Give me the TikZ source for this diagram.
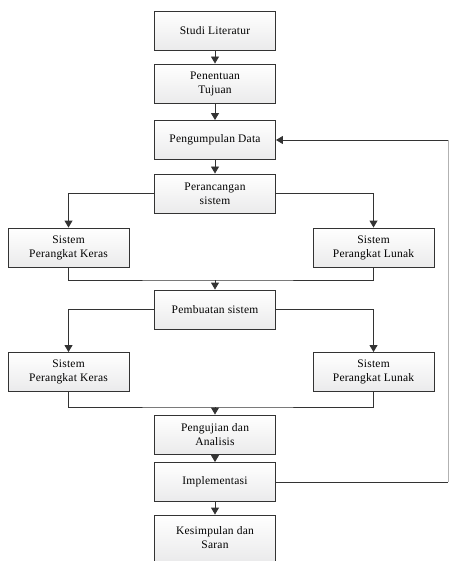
\documentclass[tikz,border=0pt]{standalone}
\usepackage{fontspec}
\setmainfont{Liberation Serif}[LetterSpace=2]
\usetikzlibrary{arrows.meta}
\begin{document}
\begin{tikzpicture}[x=1pt,y=-1pt,
  stepbox/.style={draw=black!80,line width=0.9pt,top color=white,bottom color=blue!4!black!8,
    minimum width=121pt,minimum height=39pt,align=center,inner sep=1pt,
    font=\fontsize{11.5}{14}\selectfont},
  conn/.style={draw=black!80,line width=0.9pt},
  arr/.style={conn,-{Triangle[width=8pt,length=7pt]}}]
\useasboundingbox (0,0) rectangle (451,561);
\clip (0,0) rectangle (451,561);
% main column
\node[stepbox] (lit) at (215,30.5) {Studi Literatur};
\node[stepbox] (tuj) at (215,83.5) {Penentuan\\Tujuan};
\node[stepbox] (dat) at (215,140) {Pengumpulan Data};
\node[stepbox] (ran) at (215,193.5) {Perancangan\\sistem};
\node[stepbox] (hw1) at (68.5,247.5) {Sistem\\Perangkat Keras};
\node[stepbox] (sw1) at (373.5,247.5) {Sistem\\Perangkat Lunak};
\node[stepbox] (bua) at (215,309.5) {Pembuatan sistem};
\node[stepbox] (hw2) at (68.5,372) {Sistem\\Perangkat Keras};
\node[stepbox] (sw2) at (373.5,372) {Sistem\\Perangkat Lunak};
\node[stepbox] (uji) at (215,434.5) {Pengujian dan\\Analisis};
\node[stepbox] (imp) at (215,482) {Implementasi};
\node[stepbox,minimum height=46pt] (kes) at (215,538) {Kesimpulan dan\\Saran};
% join points and return path
\coordinate (j1) at (215,280);
\coordinate (j2) at (215,407);
\coordinate (r1) at (448,482);
\coordinate (r2) at (448,140);
% straight flow
\draw[arr] (lit) -- (tuj);
\draw[arr] (tuj) -- (dat);
\draw[arr] (dat) -- (ran);
\draw[arr] (ran.west) -| (hw1.north);
\draw[arr] (ran.east) -| (sw1.north);
\draw[conn] (hw1.south) |- (j1) -| (sw1.south);
\draw[arr] (j1) -- (bua.north);
\draw[arr] (bua.west) -| (hw2.north);
\draw[arr] (bua.east) -| (sw2.north);
\draw[conn] (hw2.south) |- (j2) -| (sw2.south);
\draw[arr] (j2) -- (uji.north);
\draw[arr] (uji) -- (imp);
\draw[arr] (imp) -- (kes);
% feedback from implementation to data collection
\draw[conn] (imp.east) -- (r1);
\draw[conn,draw=black!30] (r1) -- (r2);
\draw[arr] (r2) -- (dat.east);
\end{tikzpicture}
\end{document}
